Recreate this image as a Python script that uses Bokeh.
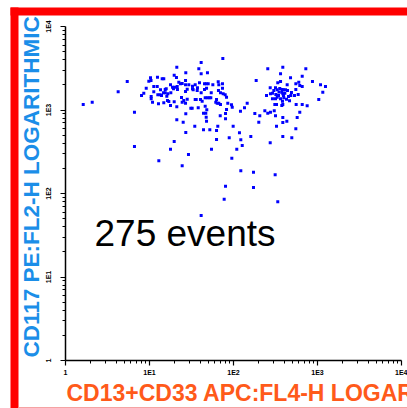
import numpy as np
from bokeh.plotting import figure
from bokeh.models import (Range1d, LogAxis, FixedTicker, CustomJSTickFormatter,
                          Label, BoxAnnotation)
from bokeh.embed import file_html
from bokeh.resources import INLINE

# ---- data: log10 of channel intensity per event ----
fl4_log = [
    0.735, 0.627, 0.211, 0.318, 1.018, 1.095, 1.051,
    1.873, 1.325, 1.615, 1.587, 1.615, 1.690, 1.432, 1.294, 1.321, 1.429,
    1.012, 0.992, 1.151, 1.170, 0.961, 0.932, 0.905, 1.051, 1.092, 1.131,
    1.187, 1.250, 1.274, 1.301, 1.286, 1.349, 1.369, 1.389, 1.429, 1.468,
    1.512, 1.512, 1.544, 1.595, 1.655, 1.675, 1.699, 1.754, 1.818, 1.825,
    1.869, 1.869, 1.520, 1.568, 1.615, 1.655, 1.679, 1.735, 1.821, 1.845,
    1.877, 1.901, 1.917, 1.020, 1.020, 1.099, 1.127, 1.167, 1.187, 1.206,
    1.218, 1.254, 1.036, 1.107, 1.170, 1.214, 1.250, 1.294, 1.325, 1.389,
    1.408, 1.429, 1.449, 1.492, 1.508, 1.544, 1.556, 1.580, 1.607, 1.627,
    1.663, 1.687, 1.711, 1.730, 1.798, 1.789, 1.806, 1.825, 1.845, 1.932,
    1.976, 1.985, 1.917, 2.083, 2.131, 2.163, 1.643, 1.670, 1.682, 1.675,
    1.842, 1.905, 1.325, 1.401, 1.679, 1.813, 1.798, 1.539, 1.432, 1.643,
    1.718, 1.996, 1.949, 1.798, 2.071, 2.087, 2.206, 2.104, 2.039, 1.738,
    1.250, 1.294, 1.464, 1.980, 1.111, 1.389, 2.087, 2.238, 1.905, 2.238,
    1.889, 1.615, 0.821, 0.821,
    1.333, 1.571, 1.449, 1.429, 1.381, 1.432, 1.905, 1.330, 1.663, 1.230,
    1.199, 1.143,
    2.270, 2.408, 2.587, 2.861, 2.560, 2.818, 2.679, 2.527, 2.560, 2.940,
    2.437, 2.500, 2.520, 2.480, 2.639, 2.742, 2.777, 2.789, 2.818, 3.036,
    3.095, 3.063, 2.592, 2.619, 2.643, 2.575, 2.440, 2.464, 2.393, 2.504,
    2.520, 2.500, 2.587, 2.595, 2.599, 2.682, 2.726, 2.770, 2.742, 2.560,
    2.583, 2.667, 2.492, 2.512, 2.575, 2.587, 2.746, 2.818, 2.877, 3.015,
    2.254, 2.313, 2.373, 2.408, 2.440, 2.485, 2.500, 2.587, 2.635, 2.789,
    2.758, 2.301, 2.587, 2.512, 2.742, 2.587, 2.694, 2.437, 2.496, 2.527,
    2.551, 2.611, 2.536, 2.631, 2.464, 2.690, 2.542, 2.655, 2.580,
]
fl2_log = [
    3.341, 3.218, 3.066, 3.093, 3.353, 3.393, 3.218,
    3.617, 3.513, 3.569, 3.493, 3.434, 3.446, 3.446, 3.417, 3.389, 3.353,
    3.386, 3.345, 3.374, 3.374, 3.261, 3.201, 3.174, 3.281, 3.281, 3.242,
    3.246, 3.302, 3.273, 3.273, 3.254, 3.333, 3.314, 3.317, 3.302, 3.302,
    3.285, 3.254, 3.302, 3.326, 3.314, 3.314, 3.314, 3.302, 3.338, 3.302,
    3.314, 3.261, 3.242, 3.234, 3.206, 3.246, 3.261, 3.206, 3.234, 3.206,
    3.194, 3.182, 3.153, 3.162, 3.134, 3.182, 3.182, 3.206, 3.206, 3.165,
    3.194, 3.206, 3.093, 3.074, 3.086, 3.114, 3.054, 3.098, 3.038, 3.093,
    3.114, 3.081, 3.129, 3.022, 3.022, 3.126, 3.126, 3.026, 3.126, 3.105,
    3.146, 3.146, 3.146, 3.146, 3.126, 3.093, 3.081, 3.081, 3.066, 3.081,
    3.062, 3.034, 3.006, 2.986, 3.026, 3.081, 2.962, 2.962, 3.002, 2.914,
    2.930, 2.895, 2.883, 2.854, 2.866, 2.806, 2.754, 2.806, 2.731, 2.763,
    2.763, 2.806, 2.667, 2.647, 2.727, 2.643, 2.683, 2.575, 2.531, 2.531,
    2.531, 2.623, 2.467, 2.423, 2.392, 2.332, 2.272, 2.255, 2.087, 2.072,
    1.932, 1.737, 2.974, 2.563,
    3.246, 3.266, 3.249, 3.222, 3.150, 2.954, 2.958, 3.281, 3.046, 3.102,
    3.254, 3.174,
    3.353, 3.493, 3.513, 3.493, 3.434, 3.405, 3.386, 3.326, 3.341, 3.341,
    3.266, 3.266, 3.242, 3.234, 3.302, 3.314, 3.333, 3.293, 3.281, 3.302,
    3.281, 3.213, 3.242, 3.242, 3.234, 3.213, 3.194, 3.201, 3.174, 3.186,
    3.153, 3.134, 3.194, 3.174, 3.146, 3.174, 3.174, 3.186, 3.246, 3.134,
    3.105, 3.110, 3.066, 3.066, 3.054, 3.066, 3.066, 3.066, 3.050, 3.126,
    2.958, 2.930, 2.990, 2.962, 2.974, 2.990, 2.930, 2.910, 2.866, 2.974,
    2.910, 2.854, 2.850, 2.806, 2.775, 2.683, 2.667, 2.607, 2.224, 1.901,
    3.257, 3.201, 3.174, 3.129, 3.134, 3.210, 3.216, 3.162, 3.246,
]

decade_ticks = [1, 10, 100, 1000, 10000]
decade_labels = ["1", "1E1", "1E2", "1E3", "1E4"]
minor_ticks = [m * d for d in [1, 10, 100, 1000] for m in range(2, 10)]
x_title = "CD13+CD33 APC:FL4-H LOGARITHMIC"
y_title = "CD117 PE:FL2-H LOGARITHMIC"
events_text = "275 events"

# ---- layout constants (pixels) ----
W, H = 407, 408
ORG_X, ORG_Y = 65, 48          # axis origin from left / from bottom
PX_DEC_X, PX_DEC_Y = 84.0, 83.5

p = figure(width=W, height=H, output_backend="svg", toolbar_location=None,
           x_axis_type="log", y_axis_type="log",
           x_axis_location=None, y_axis_location=None,
           x_range=Range1d(10 ** (-ORG_X / PX_DEC_X), 10 ** ((W - ORG_X) / PX_DEC_X)),
           y_range=Range1d(10 ** (-ORG_Y / PX_DEC_Y), 10 ** ((H - ORG_Y) / PX_DEC_Y)),
           min_border=0, outline_line_color=None,
           background_fill_color="white", border_fill_color="white")
p.grid.visible = False

fmt = CustomJSTickFormatter(args=dict(vals=decade_ticks, labs=decade_labels), code="""
for (let i = 0; i < vals.length; i++) {
  if (Math.abs(Math.log10(tick) - Math.log10(vals[i])) < 1e-6) return labs[i];
}
return '';
""")

def make_axis():
    ax = LogAxis(fixed_location=1, bounds=(1, 10000),
                 ticker=FixedTicker(ticks=decade_ticks, minor_ticks=minor_ticks),
                 formatter=fmt)
    ax.axis_line_color = "black"
    ax.axis_line_width = 1.5
    ax.major_tick_line_color = "black"
    ax.major_tick_line_width = 1.2
    ax.minor_tick_line_color = "black"
    ax.minor_tick_line_width = 1
    ax.major_tick_in = 0
    ax.major_tick_out = 5
    ax.minor_tick_in = 0
    ax.minor_tick_out = 3
    ax.major_label_text_font = "Liberation Sans"
    ax.major_label_text_font_style = "bold"
    ax.major_label_text_font_size = "7px"
    ax.major_label_text_color = "black"
    return ax

xax = make_axis()
xax.major_label_standoff = 3
p.add_layout(xax, "below")
yax = make_axis()
yax.major_label_standoff = 9
yax.major_label_orientation = "vertical"
p.add_layout(yax, "left")

p.scatter(x=10 ** np.array(fl4_log), y=10 ** np.array(fl2_log), marker="square",
          size=3, fill_color="#0000ff", line_color=None)

p.add_layout(Label(x=31, y=H - 357, x_units="screen", y_units="screen",
                   text=y_title, angle=np.pi / 2, text_align="left",
                   text_baseline="middle", text_font="Liberation Sans",
                   text_font_style="bold", text_font_size="22.5px",
                   text_color="#1b8ee8"))
p.add_layout(Label(x=66, y=H - 392, x_units="screen", y_units="screen",
                   text=x_title, text_align="left", text_baseline="alphabetic",
                   text_font="Liberation Sans", text_font_style="bold",
                   text_font_size="23px", text_color="#ff5a1a"))
p.add_layout(Label(x=94, y=H - 233, x_units="screen", y_units="screen",
                   text=events_text, text_align="left", text_baseline="alphabetic",
                   text_font="Liberation Sans", text_font_size="37px",
                   text_color="black"))

# red frame decoration (drawn on top of the titles)
p.add_layout(BoxAnnotation(left=10, right=W, top=H - 7, bottom=H - 15,
                           left_units="screen", right_units="screen",
                           top_units="screen", bottom_units="screen",
                           fill_color="#ff0000", fill_alpha=1, line_color=None,
                           level="overlay"))
p.add_layout(BoxAnnotation(left=10, right=18, top=H - 7, bottom=0,
                           left_units="screen", right_units="screen",
                           top_units="screen", bottom_units="screen",
                           fill_color="#ff0000", fill_alpha=1, line_color=None,
                           level="overlay"))
p.add_layout(BoxAnnotation(left=18, right=W, top=1.5, bottom=0,
                           left_units="screen", right_units="screen",
                           top_units="screen", bottom_units="screen",
                           fill_color="#f5a3a3", fill_alpha=1, line_color=None,
                           level="overlay"))

open("out.html", "w").write(file_html(p, INLINE))
